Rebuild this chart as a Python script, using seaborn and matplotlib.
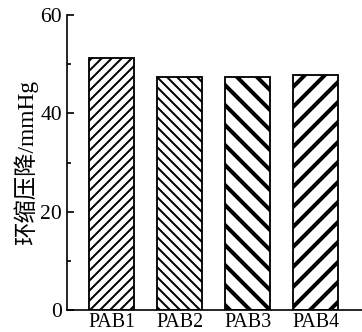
import matplotlib
matplotlib.use("Agg")
import matplotlib.pyplot as plt
import seaborn as sns
import pandas as pd
from matplotlib.ticker import MultipleLocator

categories = ["PAB1", "PAB2", "PAB3", "PAB4"]
values = [51.3, 47.4, 47.4, 47.8]
hatches = ["////", "\\\\\\\\", "\\\\", "//"]
hatch_widths = [1.2, 1.2, 2.4, 2.4]
ylabel = "环缩压降/mmHg"

sns.set_style("ticks")
plt.rcParams["font.family"] = ["Liberation Serif", "Noto Sans CJK SC"]
plt.rcParams["hatch.color"] = "black"
for k in ["text.color", "axes.labelcolor", "xtick.color", "ytick.color", "axes.edgecolor"]:
    plt.rcParams[k] = "black"

dpi = 120
fig = plt.figure(figsize=(362 / dpi, 332 / dpi), dpi=dpi)
ax = fig.add_axes([0.185, 0.066, 0.815, 0.889])

df = pd.DataFrame({"cat": categories, "val": values})
sns.barplot(data=df, x="cat", y="val", color="white", edgecolor="black",
            linewidth=1.1, width=0.66, ax=ax, saturation=1)

for p, h, hw in zip(ax.patches, hatches, hatch_widths):
    p.set_hatch(h)
    p.set_facecolor("white")
    try:
        p.set_hatch_linewidth(hw)
    except AttributeError:
        pass

ax.set_xlim(-0.66, 3.68)
ax.set_ylim(0, 60)
ax.yaxis.set_major_locator(MultipleLocator(20))
ax.yaxis.set_minor_locator(MultipleLocator(10))
ax.tick_params(axis="y", which="major", direction="in", length=4, width=1, labelsize=13, pad=3)
ax.tick_params(axis="y", which="minor", direction="in", length=2.4, width=1)
ax.tick_params(axis="x", length=0, labelsize=12, pad=2)
ax.set_xlabel("")
ax.set_ylabel(ylabel, fontsize=14, labelpad=1)
for s in ["top", "right"]:
    ax.spines[s].set_visible(False)
for s in ["left", "bottom"]:
    ax.spines[s].set_linewidth(1.0)

fig.savefig("out.png", dpi=dpi)
